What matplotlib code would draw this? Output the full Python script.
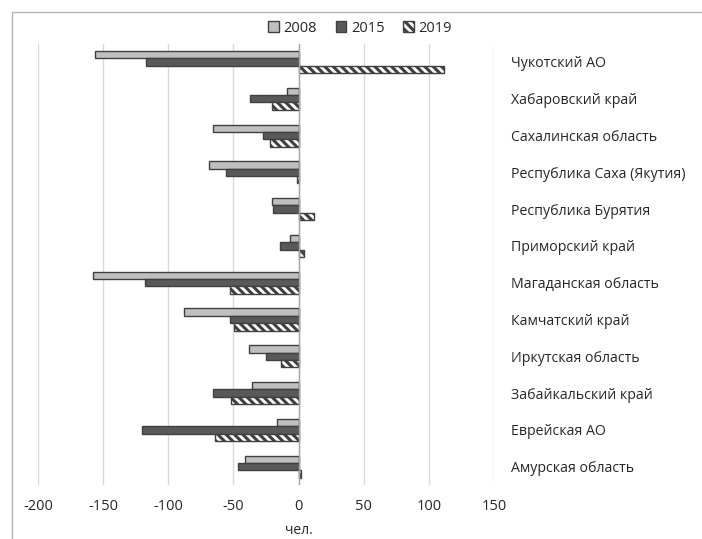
import matplotlib.pyplot as plt
import matplotlib.patches as mpatches
import numpy as np

plt.rcParams['font.family'] = ['Open Sans', 'DejaVu Sans']
plt.rcParams['hatch.linewidth'] = 2.2
plt.rcParams['axes.unicode_minus'] = False

regions = ['Чукотский АО', 'Хабаровский край', 'Сахалинская область',
           'Республика Саха (Якутия)', 'Республика Бурятия', 'Приморский край',
           'Магаданская область', 'Камчатский край', 'Иркутская область',
           'Забайкальский край', 'Еврейская АО', 'Амурская область']
v2008 = [-156, -9, -66, -69, -20.5, -6.5, -158, -88, -38, -35.5, -16.5, -41.5]
v2015 = [-117, -37, -27, -56, -20, -14, -118, -52.5, -25, -66, -120, -46.5]
v2019 = [112, -20.5, -22, -1.5, 12, 4.5, -52.5, -49.5, -13.5, -52, -64.5, 1.5]
years = ['2008', '2015', '2019']

fig = plt.figure(figsize=(7.02, 5.39), dpi=100)
ax = fig.add_axes([38 / 702, 1 - 485 / 539, (494 - 38) / 702, (485 - 43.6) / 539])

# frame of the chart area (only top and left edges are visible in the crop)
fig.add_artist(mpatches.Rectangle((12 / 702, -0.1), 1.2, 1 - 12 / 539 + 0.1,
                                  transform=fig.transFigure, fill=False,
                                  edgecolor='#b4b4b4', linewidth=1))

y = np.arange(len(regions))
h = 0.2
edge = '#404040'
ax.barh(y - h, v2008, height=h, color='#bfbfbf', edgecolor=edge, linewidth=1, label=years[0], zorder=3)
ax.barh(y, v2015, height=h, color='#595959', edgecolor=edge, linewidth=1, label=years[1], zorder=3)
ax.barh(y + h, v2019, height=h, color='white', edgecolor=edge, hatch='\\\\\\\\', linewidth=1, label=years[2], zorder=3)

ax.set_xlim(-200, 150)
ax.set_ylim(len(regions) - 0.5, -0.5)
ax.set_xticks(np.arange(-200, 151, 50))
ax.grid(axis='x', color='#d9d9d9', linewidth=1, zorder=0)
ax.axvline(0, color='#a6a6a6', linewidth=1, zorder=4)
for s in ax.spines.values():
    s.set_visible(False)

ax.set_yticks(y)
ax.set_yticklabels(regions)
ax.yaxis.tick_right()
ax.tick_params(axis='y', length=0, pad=12, labelsize=10.2, labelcolor='#262626')
ax.tick_params(axis='x', length=0, pad=10, labelsize=10.5, labelcolor='#262626')
ax.set_xlabel('чел.', fontsize=10, color='#262626', labelpad=4)
ax.xaxis.set_label_coords(200 / 350, -0.085)

ax.legend(loc='center', bbox_to_anchor=((360 - 38) / 456, 1 + (43.6 - 28) / 441.4), ncol=3,
          frameon=False, fontsize=10.5, handlelength=0.75, handleheight=0.75,
          handletextpad=0.3, columnspacing=1.3, borderaxespad=0, labelcolor='#262626')

fig.savefig('out.png', dpi=100)
